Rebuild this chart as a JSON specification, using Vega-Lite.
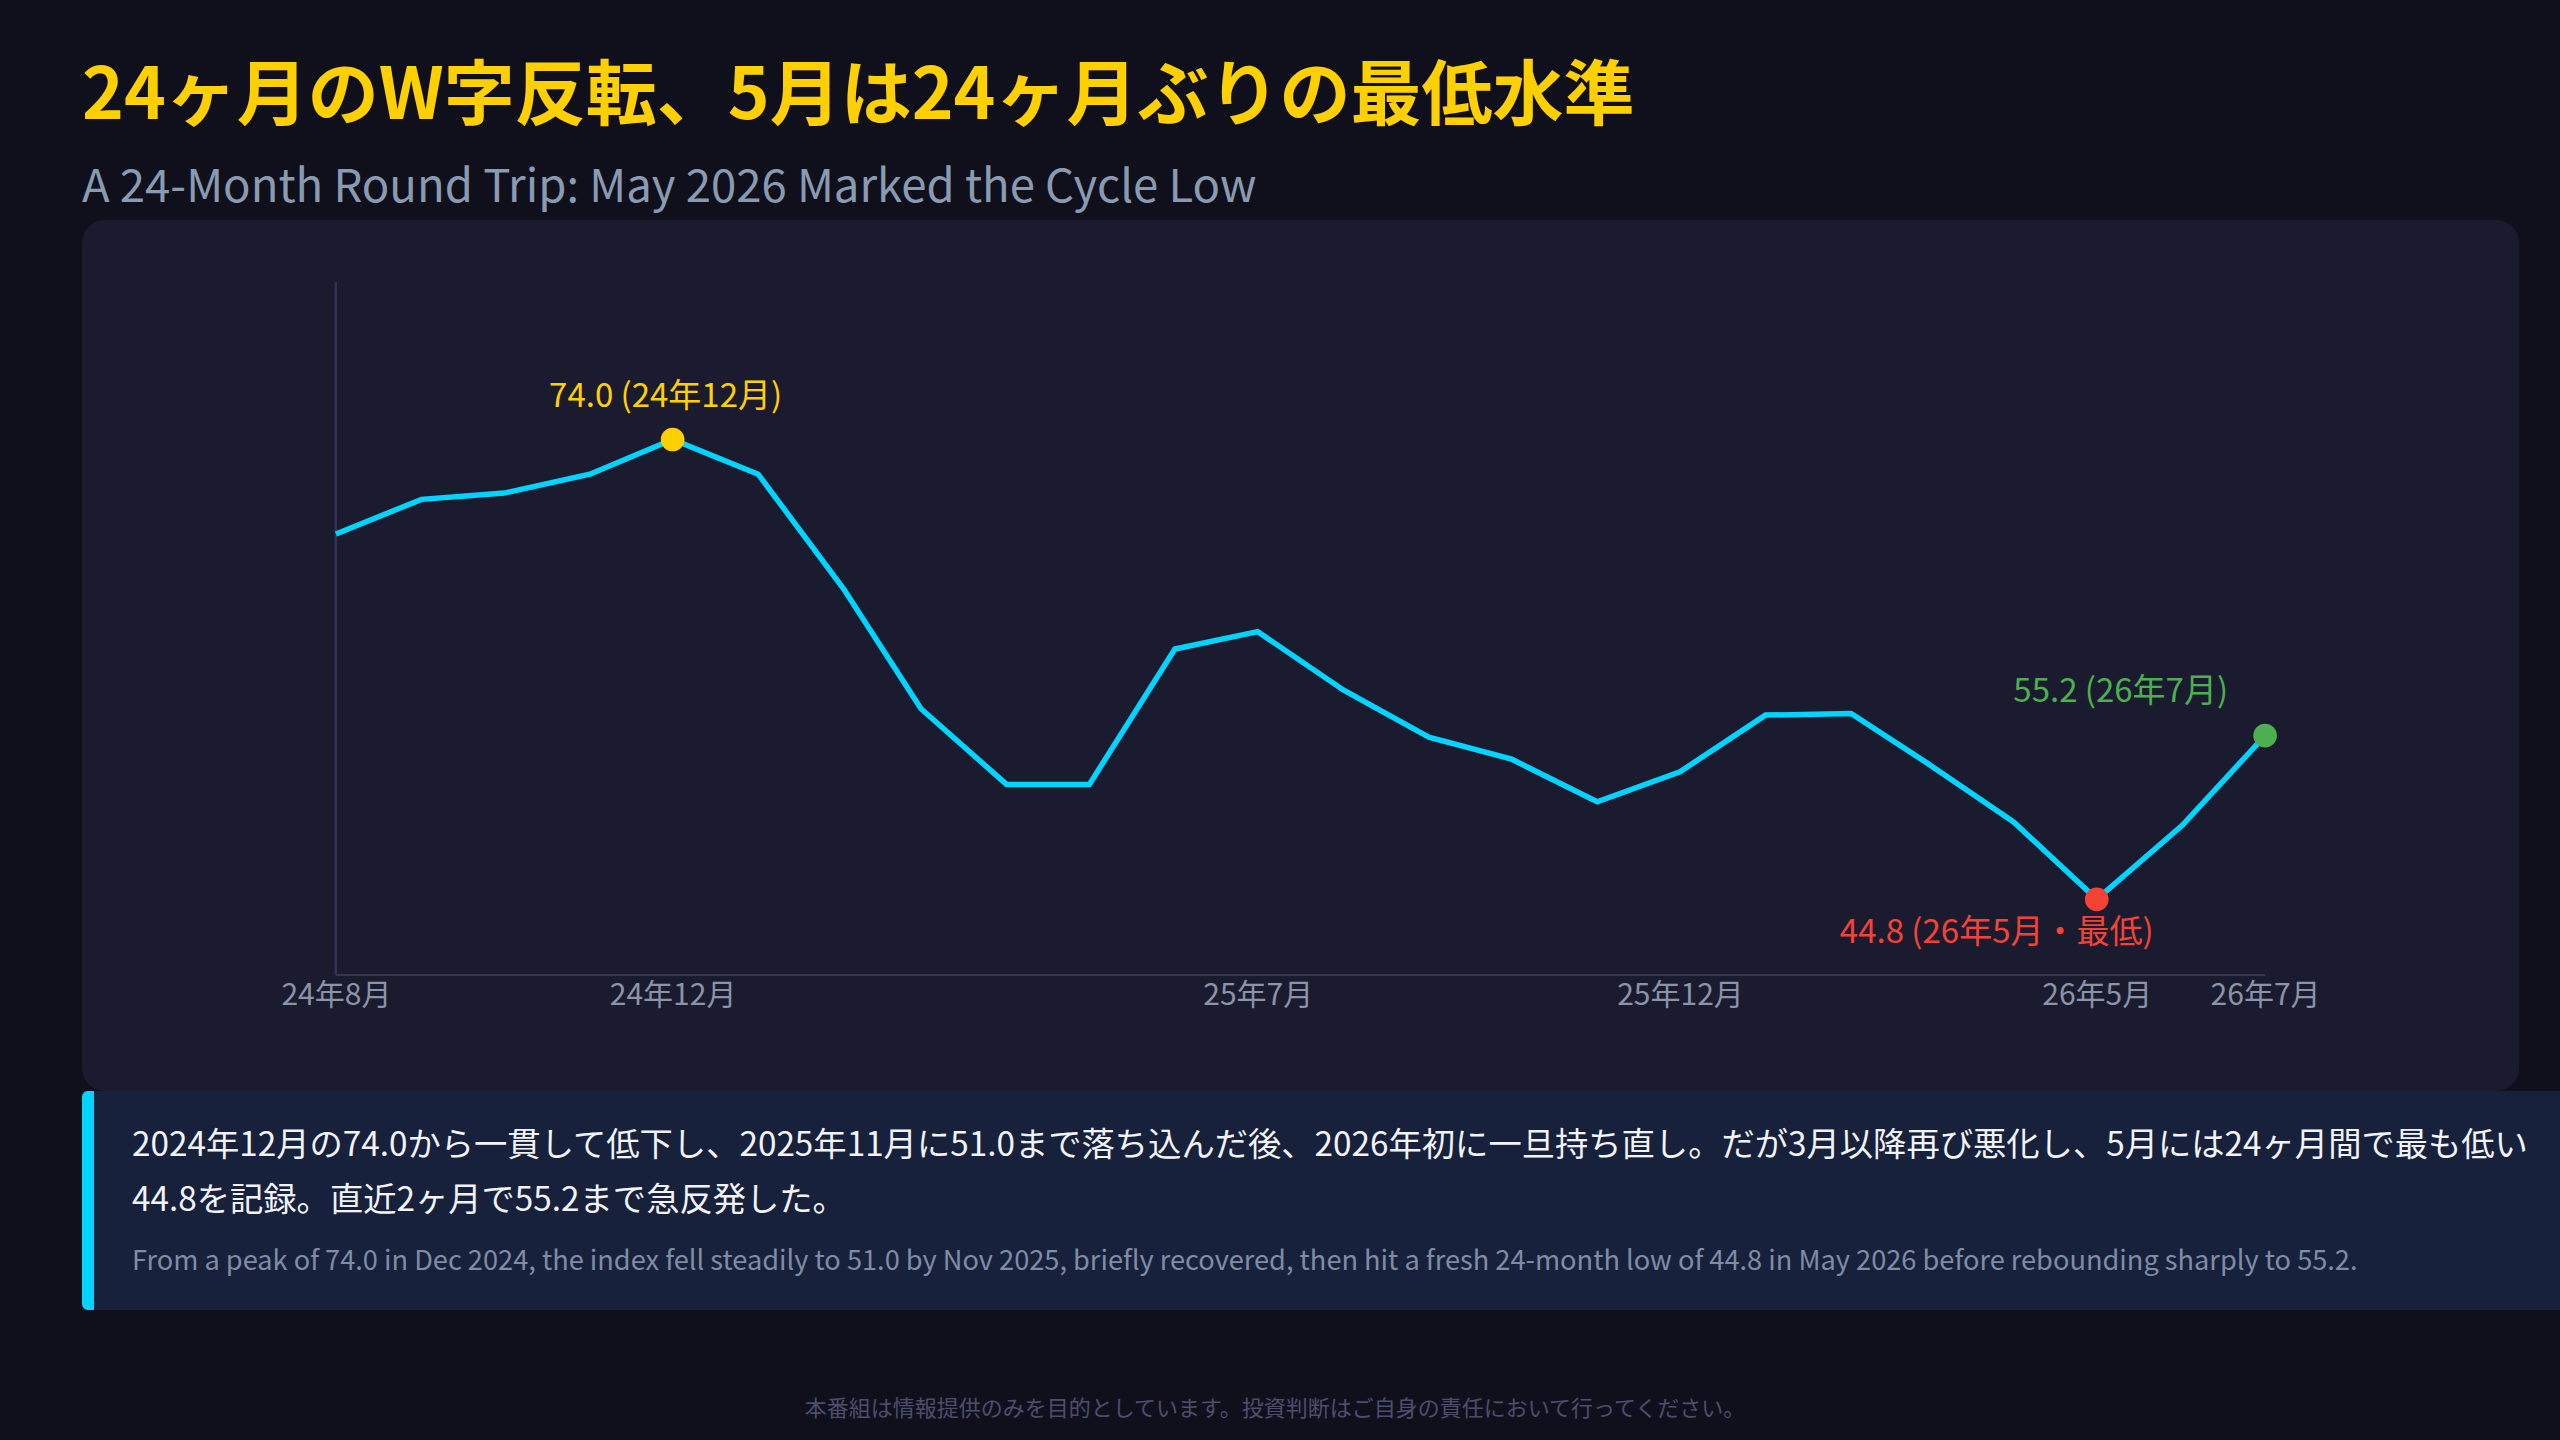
{
  "$schema": "https://vega.github.io/schema/vega-lite/v6.json",
  "background": "#10101c",
  "padding": {"left": 82, "top": 61, "right": 0, "bottom": 0},
  "title": {
    "text": "24ヶ月のW字反転、5月は24ヶ月ぶりの最低水準",
    "subtitle": "A 24-Month Round Trip: May 2026 Marked the Cycle Low",
    "anchor": "start",
    "font": "Noto Sans CJK JP",
    "fontSize": 71,
    "fontWeight": "bold",
    "color": "#ffd000",
    "subtitleFont": "Noto Sans CJK JP",
    "subtitleFontSize": 45.5,
    "subtitleFontWeight": "normal",
    "subtitleColor": "#8a9ab0",
    "subtitlePadding": 32,
    "offset": 8
  },
  "datasets": {
    "pmi": [
      {"date": "2024-08-01", "value": 68.0},
      {"date": "2024-09-01", "value": 70.2},
      {"date": "2024-10-01", "value": 70.6},
      {"date": "2024-11-01", "value": 71.8},
      {"date": "2024-12-01", "value": 74.0, "kind": "peak", "note": "74.0 (24年12月)"},
      {"date": "2025-01-01", "value": 71.8},
      {"date": "2025-02-01", "value": 64.5},
      {"date": "2025-03-01", "value": 56.9},
      {"date": "2025-04-01", "value": 52.1},
      {"date": "2025-05-01", "value": 52.1},
      {"date": "2025-06-01", "value": 60.7},
      {"date": "2025-07-01", "value": 61.8},
      {"date": "2025-08-01", "value": 58.1},
      {"date": "2025-09-01", "value": 55.1},
      {"date": "2025-10-01", "value": 53.7},
      {"date": "2025-11-01", "value": 51.0},
      {"date": "2025-12-01", "value": 52.9},
      {"date": "2026-01-01", "value": 56.5},
      {"date": "2026-02-01", "value": 56.6},
      {"date": "2026-03-01", "value": 53.4},
      {"date": "2026-04-01", "value": 49.7},
      {"date": "2026-05-01", "value": 44.8, "kind": "low", "note": "44.8 (26年5月・最低)"},
      {"date": "2026-06-01", "value": 49.5},
      {"date": "2026-07-01", "value": 55.2, "kind": "latest", "note": "55.2 (26年7月)"}
    ],
    "summary": [
      {"line": "ja1", "lang": "ja", "text": "2024年12月の74.0から一貫して低下し、2025年11月に51.0まで落ち込んだ後、2026年初に一旦持ち直し。だが3月以降再び悪化し、5月には24ヶ月間で最も低い"},
      {"line": "ja2", "lang": "ja", "text": "44.8を記録。直近2ヶ月で55.2まで急反発した。"},
      {"line": "en", "lang": "en", "text": "From a peak of 74.0 in Dec 2024, the index fell steadily to 51.0 by Nov 2025, briefly recovered, then hit a fresh 24-month low of 44.8 in May 2026 before rebounding sharply to 55.2."}
    ]
  },
  "spacing": 0,
  "vconcat": [
    {
      "width": 2437,
      "height": 871,
      "view": {"fill": "#1b1b2f", "cornerRadius": 23, "stroke": null},
      "data": {"name": "pmi"},
      "encoding": {
        "x": {
          "field": "date",
          "type": "temporal",
          "scale": {
            "type": "utc",
            "nice": false,
            "domain": [
              {"year": 2024, "month": 5, "date": 1, "utc": true},
              {"year": 2026, "month": 10, "date": 1, "utc": true}
            ]
          },
          "axis": {
            "values": [
              {"year": 2024, "month": 8, "date": 1, "utc": true},
              {"year": 2024, "month": 12, "date": 1, "utc": true},
              {"year": 2025, "month": 7, "date": 1, "utc": true},
              {"year": 2025, "month": 12, "date": 1, "utc": true},
              {"year": 2026, "month": 5, "date": 1, "utc": true},
              {"year": 2026, "month": 7, "date": 1, "utc": true}
            ],
            "labelExpr": "utcFormat(datum.value, '%y年%-m月')",
            "orient": "bottom",
            "offset": -116,
            "domain": false,
            "ticks": false,
            "grid": false,
            "labelAngle": 0,
            "labelFlush": false,
            "labelOverlap": false,
            "labelFont": "Noto Sans CJK JP",
            "labelFontSize": 30,
            "labelColor": "#8a93a8",
            "labelPadding": 5,
            "title": null
          }
        },
        "y": {
          "field": "value",
          "type": "quantitative",
          "scale": {"domain": [32.63, 87.94], "nice": false, "zero": false},
          "axis": null
        }
      },
      "layer": [
        {
          "mark": {"type": "rule", "color": "#34344f", "strokeWidth": 2},
          "encoding": {
            "x": {"datum": {"year": 2024, "month": 8, "date": 1, "utc": true}, "type": "temporal"},
            "y": {"datum": 40},
            "y2": {"datum": 84}
          }
        },
        {
          "mark": {"type": "rule", "color": "#34344f", "strokeWidth": 2},
          "encoding": {
            "y": {"datum": 40},
            "x": {"datum": {"year": 2024, "month": 8, "date": 1, "utc": true}, "type": "temporal"},
            "x2": {"datum": {"year": 2026, "month": 7, "date": 1, "utc": true}}
          }
        },
        {
          "mark": {"type": "line", "color": "#00d4ff", "strokeWidth": 5.5, "strokeJoin": "miter"}
        },
        {
          "transform": [{"filter": "isValid(datum.kind)"}],
          "mark": {"type": "circle", "size": 560, "opacity": 1},
          "encoding": {
            "color": {
              "field": "kind",
              "type": "nominal",
              "scale": {"domain": ["peak", "low", "latest"], "range": ["#ffd000", "#f44336", "#4caf50"]},
              "legend": null
            }
          }
        },
        {
          "transform": [{"filter": "datum.kind === 'peak'"}],
          "mark": {"type": "text", "font": "Noto Sans CJK JP", "fontSize": 33, "color": "#ffd000", "align": "center", "baseline": "middle", "dx": -7, "dy": -43},
          "encoding": {"text": {"field": "note"}}
        },
        {
          "transform": [{"filter": "datum.kind === 'low'"}],
          "mark": {"type": "text", "font": "Noto Sans CJK JP", "fontSize": 33, "color": "#f44336", "align": "center", "baseline": "middle", "dx": -100, "dy": 34},
          "encoding": {"text": {"field": "note"}}
        },
        {
          "transform": [{"filter": "datum.kind === 'latest'"}],
          "mark": {"type": "text", "font": "Noto Sans CJK JP", "fontSize": 33, "color": "#4caf50", "align": "right", "baseline": "middle", "dx": -37, "dy": -44},
          "encoding": {"text": {"field": "note"}}
        }
      ]
    },
    {
      "spacing": 0,
      "hconcat": [
        {
          "width": 12,
          "height": 219,
          "data": {"values": [{}]},
          "mark": {"type": "rect", "color": "#00d4ff", "cornerRadiusTopLeft": 10, "cornerRadiusBottomLeft": 10}
        },
        {
          "width": 2466,
          "height": 219,
          "view": {"fill": "#18213c", "stroke": null},
          "data": {"name": "summary"},
          "encoding": {
            "x": {"datum": 0, "type": "quantitative", "scale": {"domain": [0, 1]}, "axis": null},
            "y": {
              "field": "line",
              "type": "ordinal",
              "sort": null,
              "scale": {"type": "point", "padding": 1.066},
              "axis": null
            },
            "text": {"field": "text"}
          },
          "layer": [
            {
              "transform": [{"filter": "datum.lang === 'ja'"}],
              "mark": {"type": "text", "font": "Noto Sans CJK JP", "fontSize": 33.3, "color": "#f2f3f7", "align": "left", "baseline": "middle", "dx": 38}
            },
            {
              "transform": [{"filter": "datum.lang === 'en'"}],
              "mark": {"type": "text", "font": "Noto Sans CJK JP", "fontSize": 27.2, "color": "#7f8ca4", "align": "left", "baseline": "middle", "dx": 38, "dy": 7}
            }
          ]
        }
      ]
    },
    {
      "width": 2386,
      "height": 130,
      "data": {"values": [{"text": "本番組は情報提供のみを目的としています。投資判断はご自身の責任において行ってください。"}]},
      "mark": {"type": "text", "font": "Noto Sans CJK JP", "fontSize": 22, "color": "#4c4e6e", "align": "center", "baseline": "middle", "dy": 34},
      "encoding": {"text": {"field": "text"}}
    }
  ],
  "config": {
    "view": {"stroke": null},
    "concat": {"spacing": 0}
  }
}
